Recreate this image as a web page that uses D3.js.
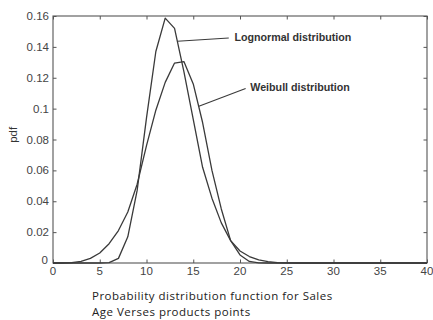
<!DOCTYPE html>
<html>
<head>
<meta charset="utf-8">
<script src="https://cdn.jsdelivr.net/npm/d3@7/dist/d3.min.js"></script>
<style>
  html, body { margin: 0; padding: 0; background: #fff; }
  svg { display: block; }
</style>
</head>
<body>
<svg id="chart" width="433" height="320"></svg>
<script>
// ---- data ----
const xValues = [0,1,2,3,4,5,6,7,8,9,10,11,12,13,14,15,16,17,18,19,20,21,22,23,24,25,26,27,28,29,30,31,32,33,34,35,36,37,38,39,40];
const lognormal = [0,0,0,0,0,0,0.0002,0.003,0.017,0.047,0.094,0.137,0.1586,0.152,0.124,0.093,0.062,0.042,0.026,0.0145,0.0078,0.0042,0.002,0.0009,0.0003,0.0001,0,0,0,0,0,0,0,0,0,0,0,0,0,0,0];
const weibull   = [0,0,0.0002,0.001,0.003,0.0065,0.0125,0.021,0.033,0.051,0.076,0.099,0.117,0.1295,0.1305,0.116,0.091,0.060,0.035,0.0145,0.0052,0.001,0.0001,0,0,0,0,0,0,0,0,0,0,0,0,0,0,0,0,0,0];
const xTicks = [0,5,10,15,20,25,30,35,40];
const yTicks = [0,0.02,0.04,0.06,0.08,0.1,0.12,0.14,0.16];
const yTickLabels = ["0","0.02","0.04","0.06","0.08","0.1","0.12","0.14","0.16"];
const seriesNames = ["Lognormal distribution","Weibull distribution"];
const yAxisTitle = "pdf";
const captionLines = ["Probability distribution function for Sales","Age Verses products points"];

// ---- layout ----
const svg = d3.select("#chart");
const L = 53, R = 427, T = 16, B = 263;
const x = d3.scaleLinear().domain([0,40]).range([L,R]);
const y = d3.scaleLinear().domain([0,0.16]).range([B,T]);
const axisColor = "#555";
const tickFont = "'Liberation Sans', Arial, sans-serif";

// frame
svg.append("rect").attr("x",L).attr("y",T).attr("width",R-L).attr("height",B-T)
  .attr("fill","none").attr("stroke",axisColor).attr("stroke-width",1.1);

// inward ticks, all four sides
const tl = 3.5;
const xb = d3.axisBottom(x).tickValues(xTicks).tickSize(-tl).tickFormat("");
const xt = d3.axisTop(x).tickValues(xTicks).tickSize(-tl).tickFormat("");
const yl = d3.axisLeft(y).tickValues(yTicks).tickSize(-tl).tickFormat("");
const yr = d3.axisRight(y).tickValues(yTicks).tickSize(-tl).tickFormat("");
[[xb,`translate(0,${B})`],[xt,`translate(0,${T})`],[yl,`translate(${L},0)`],[yr,`translate(${R},0)`]].forEach(([ax,tr])=>{
  const g = svg.append("g").attr("transform",tr).call(ax);
  g.select(".domain").remove();
  g.selectAll(".tick line").attr("stroke",axisColor).attr("stroke-width",1);
});

// tick labels
svg.append("g").selectAll("text").data(xTicks).join("text")
  .attr("x",d=>x(d)).attr("y",B+12)
  .attr("text-anchor","middle")
  .attr("font-family",tickFont).attr("font-size",11.5).attr("fill","#444")
  .text(d=>d);
svg.append("g").selectAll("text").data(yTicks).join("text")
  .attr("x",(d,i)=> i===0 ? L-5 : L-4)
  .attr("y",(d,i)=> i===0 ? y(d)+1 : y(d)+4)
  .attr("text-anchor","end")
  .attr("font-family",tickFont).attr("font-size",11.5).attr("fill","#444")
  .text((d,i)=>yTickLabels[i]);

// y title
svg.append("text")
  .attr("transform",`translate(17,${y(0.083)}) rotate(-90)`)
  .attr("text-anchor","middle")
  .attr("font-family",tickFont).attr("font-size",11.5).attr("fill","#333")
  .text(yAxisTitle);

// curves
const line = d3.line().x((d,i)=>x(xValues[i])).y(d=>y(d));
[lognormal, weibull].forEach(s=>{
  svg.append("path").datum(s).attr("d",line)
    .attr("fill","none").attr("stroke","#3a3a3a").attr("stroke-width",1.3)
    .attr("stroke-linejoin","round");
});

// annotations with leader lines
const annos = [
  {name: seriesNames[0], x0: 13.3, y0: 0.1436, x1: 18.8, y1: 0.1457, tx: 19.4, ty: 0.146},
  {name: seriesNames[1], x0: 15.6, y0: 0.1015, x1: 20.6, y1: 0.113, tx: 21.1, ty: 0.1138}
];
annos.forEach(a=>{
  svg.append("line").attr("x1",x(a.x0)).attr("y1",y(a.y0)).attr("x2",x(a.x1)).attr("y2",y(a.y1))
    .attr("stroke","#3a3a3a").attr("stroke-width",1.1);
  svg.append("text").attr("x",x(a.tx)).attr("y",y(a.ty)+3.8)
    .attr("font-family",tickFont).attr("font-size",10.7).attr("font-weight","bold").attr("fill","#333")
    .text(a.name);
});

// caption
svg.append("g").selectAll("text").data(captionLines).join("text")
  .attr("x",92).attr("y",(d,i)=>300+i*16)
  .attr("font-family","'Open Sans', sans-serif").attr("font-size",11.5)
  .attr("letter-spacing",0.5).attr("fill","#222")
  .text(d=>d);
</script>
</body>
</html>
